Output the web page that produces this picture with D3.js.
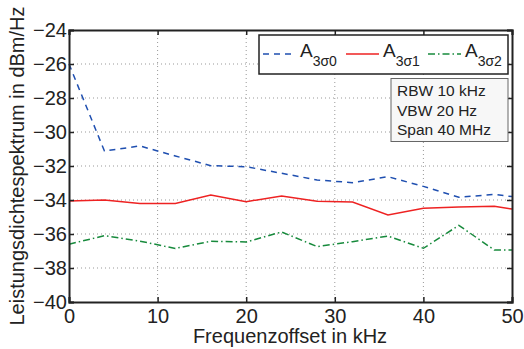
<!DOCTYPE html>
<html>
<head>
<meta charset="utf-8">
<script src="https://cdn.jsdelivr.net/npm/d3@7"></script>
<style>
body { margin: 0; background: #fff; }
text { font-family: "Liberation Sans", Arial, sans-serif; }
</style>
</head>
<body>
<svg id="chart" width="524" height="349"></svg>
<script>
const freq = [0, 4, 8, 12, 16, 20, 24, 28, 32, 36, 40, 44, 48, 50];
const a0 = [-26.0, -31.12, -30.82, -31.41, -31.98, -32.04, -32.43, -32.82, -32.98, -32.63, -33.2, -33.84, -33.67, -33.8];
const a1 = [-34.06, -34.0, -34.2, -34.2, -33.7, -34.1, -33.76, -34.08, -34.12, -34.88, -34.49, -34.41, -34.37, -34.53];
const a2 = [-36.6, -36.1, -36.42, -36.85, -36.43, -36.47, -35.88, -36.74, -36.45, -36.12, -36.84, -35.49, -36.94, -36.94];
const xTicks = [0, 10, 20, 30, 40, 50];
const yTicks = [-40, -38, -36, -34, -32, -30, -28, -26, -24];
const series = [
  {name: "3σ0", values: a0, color: "#1f4fb0", dash: "6,5"},
  {name: "3σ1", values: a1, color: "#ee2222", dash: null},
  {name: "3σ2", values: a2, color: "#178a3c", dash: "7,3,1.5,3"}
];
const infoLines = ["RBW 10 kHz", "VBW 20 Hz", "Span 40 MHz"];

const svg = d3.select("#chart");
const m = {left: 69, right: 512, top: 30, bottom: 302};
const x = d3.scaleLinear().domain([0, 50]).range([m.left, m.right]);
const y = d3.scaleLinear().domain([-40, -24]).range([m.bottom, m.top]);

// grid
const grid = svg.append("g").attr("stroke", "#999").attr("stroke-dasharray", "1,3").attr("stroke-width", 1);
xTicks.slice(1, -1).forEach(t => grid.append("line").attr("x1", x(t)).attr("x2", x(t)).attr("y1", m.top).attr("y2", m.bottom));
yTicks.slice(1, -1).forEach(t => grid.append("line").attr("x1", m.left).attr("x2", m.right).attr("y1", y(t)).attr("y2", y(t)));

// lines
const line = d3.line().x((d, i) => x(freq[i])).y(d => y(d));
series.forEach(s => {
  svg.append("path").datum(s.values).attr("d", line)
    .attr("fill", "none").attr("stroke", s.color).attr("stroke-width", 1.5)
    .attr("stroke-dasharray", s.dash);
});

// axes
const fmt = d => d < 0 ? "\u2212" + Math.abs(d) : d;
svg.append("g").attr("transform", `translate(0,${m.bottom})`)
  .call(d3.axisBottom(x).tickValues(xTicks).tickSize(-5).tickPadding(7).tickFormat(fmt));
svg.append("g").attr("transform", `translate(${m.left},0)`)
  .call(d3.axisLeft(y).tickValues(yTicks).tickSize(-5).tickPadding(2).tickFormat(fmt));
svg.append("g").attr("transform", `translate(0,${m.top})`)
  .call(d3.axisTop(x).tickValues(xTicks).tickSize(-5).tickFormat(""));
svg.append("g").attr("transform", `translate(${m.right},0)`)
  .call(d3.axisRight(y).tickValues(yTicks).tickSize(-5).tickFormat(""));
svg.selectAll(".domain").attr("stroke", "#222").attr("stroke-width", 2);
svg.selectAll(".tick line").attr("stroke", "#222").attr("stroke-width", 1.5);
svg.selectAll(".tick text").attr("font-size", 20).attr("fill", "#222")
  .attr("font-family", "'Liberation Sans', Arial, sans-serif");

// axis labels
svg.append("text").attr("x", 290).attr("y", 343).attr("text-anchor", "middle")
  .attr("font-size", 20).attr("fill", "#222").text("Frequenzoffset in kHz");
svg.append("text").attr("transform", "translate(24,166) rotate(-90)").attr("text-anchor", "middle")
  .attr("font-size", 20).attr("fill", "#222").text("Leistungsdichtespektrum in dBm/Hz");

// legend
const leg = svg.append("g");
leg.append("rect").attr("x", 259).attr("y", 35).attr("width", 249).attr("height", 39)
  .attr("fill", "#fff").attr("stroke", "#222").attr("stroke-width", 1.5);
const legX = [263, 346, 428];
series.forEach((s, i) => {
  leg.append("line").attr("x1", legX[i]).attr("x2", legX[i] + 33).attr("y1", 54).attr("y2", 54)
    .attr("stroke", s.color).attr("stroke-width", 1.5).attr("stroke-dasharray", s.dash);
  const t = leg.append("text").attr("x", legX[i] + 37).attr("y", 57).attr("font-size", 19).attr("fill", "#222");
  t.append("tspan").text("A");
  t.append("tspan").attr("dy", 9).attr("font-size", 14).text(s.name);
});

// info box
const info = svg.append("g");
info.append("rect").attr("x", 391).attr("y", 78.5).attr("width", 117).attr("height", 63)
  .attr("fill", "#f7f7f7").attr("stroke", "#666").attr("stroke-width", 1);
infoLines.forEach((l, i) => {
  info.append("text").attr("x", 397).attr("y", 96 + i * 19.5).attr("font-size", 15.5).attr("fill", "#222").text(l);
});
</script>
</body>
</html>
